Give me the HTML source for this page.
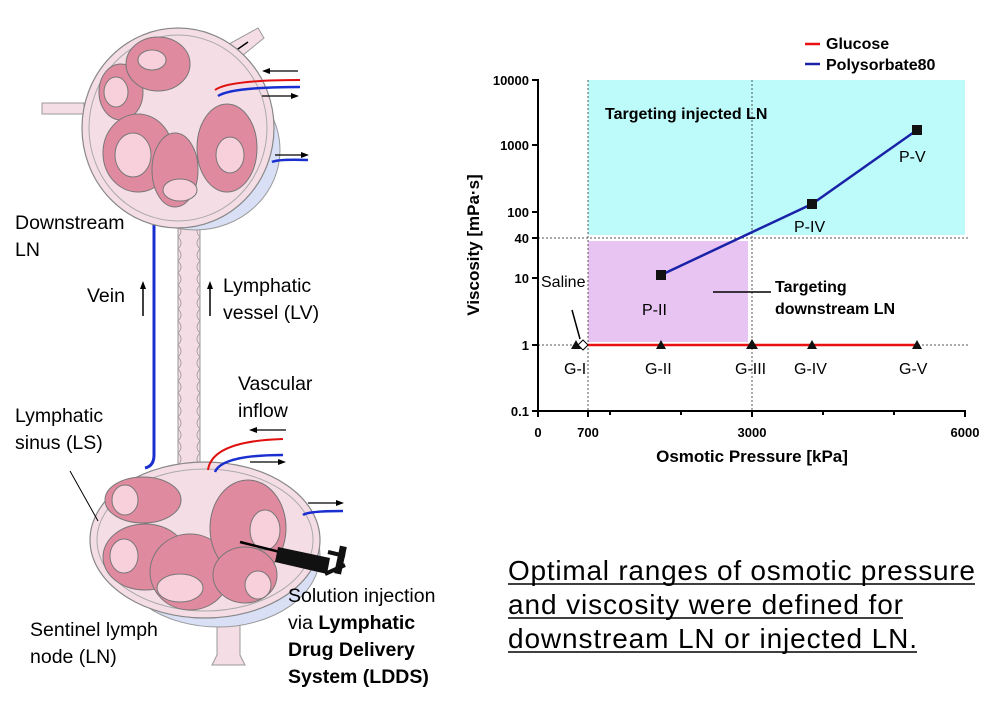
<!DOCTYPE html>
<html><head><meta charset="utf-8"><style>
body{margin:0;background:#fff;}
svg{display:block;font-family:"Liberation Sans",Arial,sans-serif;}
</style></head><body>
<svg width="1003" height="708" viewBox="0 0 1003 708" xmlns="http://www.w3.org/2000/svg">
<!-- ===== Illustration ===== -->
<g>
<!-- lymphatic vessel -->
<rect x="178" y="215" width="22" height="262" fill="#f5dde6" stroke="#999" stroke-width="1"/>
<path d="M178 225 q6 6 0 12 q6 6 0 12 q6 6 0 12 q6 6 0 12 q6 6 0 12 q6 6 0 12 q6 6 0 12 q6 6 0 12 q6 6 0 12 q6 6 0 12 q6 6 0 12 q6 6 0 12 q6 6 0 12 q6 6 0 12 q6 6 0 12 q6 6 0 12 q6 6 0 12 q6 6 0 12 q6 6 0 12 q6 6 0 12" fill="none" stroke="#999" stroke-width="0.8"/>
<path d="M200 225 q-6 6 0 12 q-6 6 0 12 q-6 6 0 12 q-6 6 0 12 q-6 6 0 12 q-6 6 0 12 q-6 6 0 12 q-6 6 0 12 q-6 6 0 12 q-6 6 0 12 q-6 6 0 12 q-6 6 0 12 q-6 6 0 12 q-6 6 0 12 q-6 6 0 12 q-6 6 0 12 q-6 6 0 12 q-6 6 0 12 q-6 6 0 12 q-6 6 0 12" fill="none" stroke="#999" stroke-width="0.8"/>
<!-- vein -->
<path d="M154 215 L154 455 Q154 466 145 468" fill="none" stroke="#1a2fd0" stroke-width="3"/>
<!-- top node -->
<path d="M200 60 L258 28 l6 10 L215 78z" fill="#f5dde6" stroke="#999"/>
<line x1="225" y1="58" x2="248" y2="42" stroke="#000" stroke-width="1.5"/>
<rect x="42" y="103" width="42" height="11" fill="#f5dde6" stroke="#999"/>
<ellipse cx="195" cy="150" rx="85" ry="80" fill="#d9dff5" stroke="#999"/>
<ellipse cx="178" cy="128" rx="96" ry="100" fill="#f5dde6" stroke="#888" stroke-width="1.2"/>
<ellipse cx="178" cy="128" rx="89" ry="93" fill="none" stroke="#aaa"/>
<ellipse cx="121" cy="92" rx="22" ry="28" fill="#e08aa0" stroke="#777"/><ellipse cx="116" cy="92" rx="12" ry="15" fill="#f8d0dc" stroke="#777"/>
<ellipse cx="158" cy="64" rx="32" ry="27" fill="#e08aa0" stroke="#777"/><ellipse cx="152" cy="60" rx="14" ry="10" fill="#f8d0dc" stroke="#777"/>
<ellipse cx="138" cy="153" rx="35" ry="39" fill="#e08aa0" stroke="#777"/><ellipse cx="133" cy="155" rx="18" ry="22" fill="#f8d0dc" stroke="#777"/>
<ellipse cx="175" cy="170" rx="23" ry="37" fill="#e08aa0" stroke="#777"/><ellipse cx="180" cy="190" rx="17" ry="11" fill="#f8d0dc" stroke="#777"/>
<ellipse cx="227" cy="148" rx="30" ry="44" fill="#e08aa0" stroke="#777"/><ellipse cx="230" cy="155" rx="14" ry="18" fill="#f8d0dc" stroke="#777"/>
<path d="M215 90 Q228 80 300 80" fill="none" stroke="#e01010" stroke-width="2"/>
<path d="M218 96 Q232 87 300 87" fill="none" stroke="#1a2fd0" stroke-width="2.5"/>
<line x1="265" y1="71" x2="298" y2="71" stroke="#000" stroke-width="1.2"/><path d="M262 71 l8 -3 v6z"/>
<line x1="262" y1="96" x2="295" y2="96" stroke="#000" stroke-width="1.2"/><path d="M299 96 l-8 -3 v6z"/>
<path d="M272 162 Q278 159 308 160" fill="none" stroke="#1a2fd0" stroke-width="2.5"/>
<line x1="275" y1="155" x2="305" y2="155" stroke="#000" stroke-width="1.2"/><path d="M309 155 l-8 -3 v6z"/>
<!-- bottom node -->
<path d="M217 620 h23 v35 l5 10 h-33 l5 -10z" fill="#f5dde6" stroke="#999"/>
<ellipse cx="218" cy="555" rx="102" ry="72" fill="#d9dff5" stroke="#999"/>
<ellipse cx="205" cy="540" rx="115" ry="78" fill="#f5dde6" stroke="#888" stroke-width="1.2"/>
<ellipse cx="205" cy="540" rx="108" ry="71" fill="none" stroke="#aaa"/>
<ellipse cx="143" cy="500" rx="38" ry="23" fill="#e08aa0" stroke="#777"/><ellipse cx="125" cy="500" rx="13" ry="15" fill="#f8d0dc" stroke="#777"/>
<ellipse cx="145" cy="557" rx="42" ry="33" fill="#e08aa0" stroke="#777"/><ellipse cx="124" cy="556" rx="14" ry="17" fill="#f8d0dc" stroke="#777"/>
<ellipse cx="190" cy="572" rx="40" ry="38" fill="#e08aa0" stroke="#777"/><ellipse cx="180" cy="588" rx="23" ry="14" fill="#f8d0dc" stroke="#777"/>
<ellipse cx="248" cy="528" rx="38" ry="48" fill="#e08aa0" stroke="#777"/><ellipse cx="265" cy="530" rx="15" ry="20" fill="#f8d0dc" stroke="#777"/>
<ellipse cx="245" cy="575" rx="32" ry="28" fill="#e08aa0" stroke="#777"/><ellipse cx="258" cy="585" rx="13" ry="14" fill="#f8d0dc" stroke="#777"/>
<path d="M208 470 Q212 441 283 439" fill="none" stroke="#e01010" stroke-width="2"/>
<path d="M215 472 Q222 455 283 455" fill="none" stroke="#1a2fd0" stroke-width="2.5"/>
<line x1="252" y1="430" x2="286" y2="430" stroke="#000" stroke-width="1.2"/><path d="M249 430 l8 -3 v6z"/>
<line x1="250" y1="462" x2="282" y2="462" stroke="#000" stroke-width="1.2"/><path d="M286 462 l-8 -3 v6z"/>
<path d="M303 515 Q308 511 343 511" fill="none" stroke="#1a2fd0" stroke-width="2.5"/>
<line x1="308" y1="503" x2="340" y2="503" stroke="#000" stroke-width="1.2"/><path d="M344 503 l-8 -3 v6z"/>
<line x1="70" y1="471" x2="98" y2="521" stroke="#000" stroke-width="1"/>
<!-- syringe -->
<line x1="240" y1="542" x2="280" y2="552" stroke="#000" stroke-width="2.5"/>
<path d="M278 547 L330 558 L327 574 L275 562z" fill="#111"/>
<path d="M328 552 L345 556 M325 574 L345 565" stroke="#111" stroke-width="4"/>
<rect x="337" y="546" width="7" height="28" fill="#111" transform="rotate(12 340 560)"/>
<!-- arrows vein / LV -->
<line x1="143" y1="316" x2="143" y2="287" stroke="#000" stroke-width="1.5"/><path d="M143 281 l-3 8 h6z"/>
<line x1="210" y1="316" x2="210" y2="287" stroke="#000" stroke-width="1.5"/><path d="M210 281 l-3 8 h6z"/>
</g>
<g font-size="19.5" fill="#000">
<text x="15" y="229">Downstream</text><text x="15" y="256">LN</text>
<text x="87" y="302">Vein</text>
<text x="223" y="292">Lymphatic</text><text x="223" y="319">vessel (LV)</text>
<text x="238" y="390">Vascular</text><text x="238" y="417">inflow</text>
<text x="15" y="422">Lymphatic</text><text x="15" y="449">sinus (LS)</text>
<text x="30" y="636">Sentinel lymph</text><text x="30" y="663">node (LN)</text>
<text x="288" y="602">Solution injection</text>
<text x="288" y="629">via <tspan font-weight="bold">Lymphatic</tspan></text>
<text x="288" y="656" font-weight="bold">Drug Delivery</text>
<text x="288" y="683" font-weight="bold">System (LDDS)</text>
</g>
<!-- ===== Chart ===== -->
<rect x="588" y="80" width="377" height="155" fill="#bdfbfb"/>
<rect x="588" y="241" width="160" height="101" fill="#e8c4f2"/>
<g stroke="#555" stroke-width="1" stroke-dasharray="2,2">
<line x1="588" y1="80" x2="588" y2="411"/>
<line x1="752" y1="80" x2="752" y2="411"/>
<line x1="538" y1="238" x2="968" y2="238"/>
<line x1="538" y1="345" x2="968" y2="345"/>
</g>
<g stroke="#000" stroke-width="2">
<line x1="538" y1="79" x2="538" y2="412"/>
<line x1="537" y1="411" x2="966" y2="411"/>
<line x1="532" y1="80" x2="538" y2="80"/><line x1="532" y1="145" x2="538" y2="145"/>
<line x1="532" y1="212" x2="538" y2="212"/><line x1="532" y1="238" x2="538" y2="238"/>
<line x1="532" y1="278" x2="538" y2="278"/><line x1="532" y1="345" x2="538" y2="345"/>
<line x1="532" y1="411" x2="538" y2="411"/>
<line x1="538" y1="411" x2="538" y2="417"/><line x1="588" y1="411" x2="588" y2="417"/>
<line x1="610" y1="411" x2="610" y2="415"/><line x1="681" y1="411" x2="681" y2="415"/>
<line x1="752" y1="411" x2="752" y2="417"/><line x1="823" y1="411" x2="823" y2="415"/>
<line x1="894" y1="411" x2="894" y2="415"/><line x1="965" y1="411" x2="965" y2="417"/>
</g>
<g font-size="13" font-weight="bold" text-anchor="end">
<text x="529" y="85">10000</text><text x="529" y="150">1000</text><text x="529" y="217">100</text>
<text x="529" y="243">40</text><text x="529" y="283">10</text><text x="529" y="350">1</text><text x="529" y="416">0.1</text>
</g>
<g font-size="13" font-weight="bold" text-anchor="middle">
<text x="538" y="437">0</text><text x="588" y="437">700</text><text x="752" y="437">3000</text><text x="965" y="437">6000</text>
</g>
<text x="752" y="462" font-size="17" font-weight="bold" text-anchor="middle">Osmotic Pressure [kPa]</text>
<text transform="translate(479 245) rotate(-90)" font-size="17" font-weight="bold" text-anchor="middle">Viscosity [mPa·s]</text>
<!-- series -->
<line x1="583" y1="345" x2="917" y2="345" stroke="#e81010" stroke-width="2.5"/>
<polyline points="661,275 812,204 917,130" fill="none" stroke="#1a23a8" stroke-width="2.5"/>
<g fill="#111">
<rect x="656" y="270" width="10" height="10"/><rect x="807" y="199" width="10" height="10"/><rect x="912" y="125" width="10" height="10"/>
<path d="M576 340 l-5 9 h10z"/><path d="M661 340 l-5 9 h10z"/><path d="M752 339 l-6 10 h12z"/><path d="M812 340 l-5 9 h10z"/><path d="M917 340 l-5 9 h10z"/>
</g>
<path d="M583 340 l5 5 l-5 5 l-5 -5z" fill="#fff" stroke="#000"/>
<line x1="572" y1="310" x2="580" y2="339" stroke="#000" stroke-width="1.5"/>
<line x1="713" y1="292" x2="771" y2="292" stroke="#000" stroke-width="1.5"/>
<g font-size="16">
<text x="541" y="287">Saline</text>
<text x="642" y="315">P-II</text><text x="794" y="232">P-IV</text><text x="899" y="162">P-V</text>
<text x="564" y="374">G-I</text><text x="645" y="374">G-II</text><text x="735" y="374">G-III</text><text x="794" y="374">G-IV</text><text x="899" y="374">G-V</text>
</g>
<g font-size="16" font-weight="bold">
<text x="605" y="119">Targeting injected LN</text>
<text x="775" y="292">Targeting</text><text x="775" y="314">downstream LN</text>
<text x="826" y="49">Glucose</text><text x="826" y="70">Polysorbate80</text>
</g>
<line x1="805" y1="44" x2="820" y2="44" stroke="#e81010" stroke-width="2.5"/>
<line x1="805" y1="64" x2="820" y2="64" stroke="#1a23a8" stroke-width="2.5"/>
<!-- bottom text -->
<g font-size="28">
<text x="508" y="580" textLength="467">Optimal ranges of osmotic pressure</text>
<text x="508" y="614" textLength="395">and viscosity were defined for</text>
<text x="508" y="648" textLength="409">downstream LN or injected LN.</text>
</g>
<g stroke="#000" stroke-width="1.5">
<line x1="508" y1="584" x2="975" y2="584"/><line x1="508" y1="618" x2="903" y2="618"/><line x1="508" y1="652" x2="917" y2="652"/>
</g>
</svg>
</body></html>
